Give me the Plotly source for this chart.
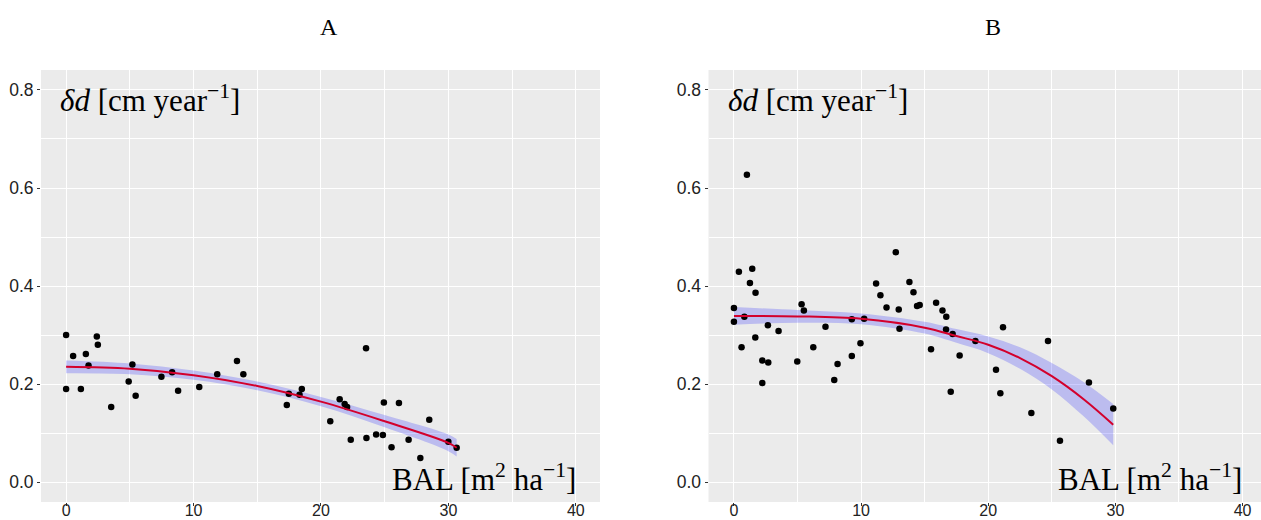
import plotly.graph_objects as go

# ---------------- data ----------------
# Panel A: observations
bal_a = [0, 0, 0.55, 1.16, 1.55, 1.76, 2.41, 2.49, 3.54, 4.91, 5.2, 5.46, 7.48, 8.32, 8.79,
         10.45, 11.86, 13.41, 13.91, 17.32, 17.48, 18.32, 18.5, 20.73, 21.47, 21.86, 22.05,
         22.34, 23.54, 23.57, 24.33, 24.86, 24.94, 25.54, 26.12, 26.88, 27.8, 28.5, 30.0, 30.65]
dd_a = [0.300, 0.190, 0.257, 0.190, 0.261, 0.238, 0.297, 0.280, 0.153, 0.205, 0.240, 0.176,
        0.215, 0.224, 0.186, 0.194, 0.220, 0.247, 0.220, 0.157, 0.180, 0.178, 0.190, 0.124,
        0.169, 0.159, 0.153, 0.086, 0.273, 0.090, 0.097, 0.096, 0.162, 0.071, 0.161, 0.086,
        0.049, 0.127, 0.082, 0.070]
# Panel A: fitted curve and confidence band
fit_x_a = [0, 5, 10, 15, 20, 25, 30, 30.65]
fit_a = [0.235, 0.231, 0.218, 0.196, 0.164, 0.124, 0.080, 0.070]
lo_a = [0.222, 0.220, 0.2085, 0.187, 0.1545, 0.1115, 0.063, 0.052]
hi_a = [0.248, 0.242, 0.2275, 0.205, 0.1735, 0.1365, 0.097, 0.088]

# Panel B: observations
bal_b = [1.02, 0, 0, 0.39, 0.6, 0.82, 1.26, 1.44, 1.70, 1.68, 2.23, 2.23, 2.70, 2.67, 3.51,
         4.98, 5.32, 5.5, 6.24, 7.2, 7.89, 8.15, 9.27, 9.27, 9.95, 10.24, 11.18, 11.52, 12.0,
         12.73, 12.96, 13.02, 13.8, 14.12, 14.4, 14.61, 15.5, 15.9, 16.4, 16.7, 16.68, 17.2,
         17.05, 17.75, 18.99, 20.61, 20.95, 21.16, 23.39, 24.7, 25.64, 27.92, 29.83]
dd_b = [0.627, 0.355, 0.327, 0.429, 0.275, 0.337, 0.406, 0.435, 0.386, 0.295, 0.248, 0.202,
        0.244, 0.320, 0.308, 0.246, 0.363, 0.350, 0.275, 0.317, 0.208, 0.241, 0.257, 0.332,
        0.283, 0.333, 0.405, 0.381, 0.356, 0.469, 0.352, 0.313, 0.408, 0.387, 0.359, 0.361,
        0.271, 0.366, 0.350, 0.337, 0.311, 0.302, 0.184, 0.258, 0.288, 0.229, 0.181, 0.316,
        0.141, 0.288, 0.084, 0.203, 0.150]
# Panel B: fitted curve and confidence band
fit_x_b = [0, 5, 10, 15, 17.5, 20, 22.5, 25, 27.5, 29.83]
fit_b = [0.339, 0.338, 0.333, 0.315, 0.298, 0.280, 0.253, 0.216, 0.169, 0.117]
lo_b = [0.321, 0.325, 0.322, 0.303, 0.284, 0.263, 0.231, 0.189, 0.134, 0.075]
hi_b = [0.357, 0.351, 0.344, 0.327, 0.312, 0.297, 0.275, 0.243, 0.204, 0.159]

x_ticks = [0, 10, 20, 30, 40]
y_ticks = [0.0, 0.2, 0.4, 0.6, 0.8]
titles = ["A", "B"]
y_label = "<i>δd</i> [cm year<sup>−1</sup>]"
x_label = "BAL [m<sup>2</sup> ha<sup>−1</sup>]"

# ---------------- styles ----------------
BAND = "rgba(0,0,255,0.2)"
LINE = "#d3002c"
BG = "#EBEBEB"
SERIF = "Liberation Serif"
SANS = "Liberation Sans"

fig = go.Figure()

panels = [
    ("x", "y", bal_a, dd_a, fit_x_a, fit_a, lo_a, hi_a),
    ("x2", "y2", bal_b, dd_b, fit_x_b, fit_b, lo_b, hi_b),
]
for xa, ya, px, py, fx, fy, lo, hi in panels:
    fig.add_trace(go.Scatter(
        x=fx, y=lo, mode="lines", line=dict(width=0, shape="spline"),
        hoverinfo="skip", showlegend=False, xaxis=xa, yaxis=ya))
    fig.add_trace(go.Scatter(
        x=fx, y=hi, mode="lines", fill="tonexty", fillcolor=BAND,
        line=dict(width=0, shape="spline"),
        hoverinfo="skip", showlegend=False, xaxis=xa, yaxis=ya))
    fig.add_trace(go.Scatter(
        x=px, y=py, mode="markers", marker=dict(color="black", size=6.5),
        showlegend=False, xaxis=xa, yaxis=ya))
    fig.add_trace(go.Scatter(
        x=fx, y=fy, mode="lines", line=dict(color=LINE, width=2, shape="spline"),
        showlegend=False, xaxis=xa, yaxis=ya))

L, R, T, B = 41, 0, 70, 18
W, H = 1261, 520
pw = W - L - R
ph = H - T - B

def px2paper_x(p):
    return (p - L) / pw

def py2paper_y(p):
    return (H - B - p) / ph

common_x = dict(
    showgrid=True, gridcolor="white", gridwidth=1.1, zeroline=False, automargin=False,
    tickvals=x_ticks, ticks="outside", ticklen=3, tickwidth=1, tickcolor="#333333",
    tickfont=dict(family=SANS, size=16, color="#222222"), showline=False,
    ticklabelstandoff=-9,
    minor=dict(dtick=5, tick0=0, showgrid=True, gridcolor="white", gridwidth=0.5, ticks=""),
)
common_y = dict(
    showgrid=True, gridcolor="white", gridwidth=1.1, zeroline=False, automargin=False,
    tickvals=y_ticks, tickformat=".1f", ticks="outside", ticklen=3, tickwidth=1,
    tickcolor="#333333", tickfont=dict(family=SANS, size=17.5, color="#222222"),
    range=[-0.0408, 0.8408], showline=False,
    minor=dict(dtick=0.1, tick0=0, showgrid=True, gridcolor="white", gridwidth=0.5, ticks=""),
)

fig.update_layout(
    width=W, height=H, margin=dict(l=L, r=R, t=T, b=B),
    paper_bgcolor="white", plot_bgcolor=BG,
    xaxis=dict(domain=[0, px2paper_x(600)], range=[-1.97, 41.9], anchor="y", **common_x),
    yaxis=dict(domain=[0, 1], anchor="x", **common_y),
    xaxis2=dict(domain=[px2paper_x(708.5), 1], range=[-2.0, 41.45], anchor="y2", **common_x),
    yaxis2=dict(domain=[0, 1], anchor="x2", **common_y),
    showlegend=False,
)

annotations = []
for title, tx in zip(titles, [329, 993]):
    annotations.append(dict(text=title, xref="paper", yref="paper", x=px2paper_x(tx),
                            y=py2paper_y(27), xanchor="center", yanchor="middle",
                            showarrow=False, font=dict(family=SERIF, size=24, color="black")))
for xr, yr, xl in [("x", "y", 40.2), ("x2", "y2", 40.1)]:
    annotations.append(dict(text=y_label, xref=xr, yref=yr, x=-0.6, y=0.782,
                            xanchor="left", yanchor="middle", showarrow=False,
                            font=dict(family=SERIF, size=31, color="black")))
    annotations.append(dict(text=x_label, xref=xr, yref=yr, x=xl, y=0.01,
                            xanchor="right", yanchor="middle", showarrow=False,
                            font=dict(family=SERIF, size=31, color="black")))
fig.update_layout(annotations=annotations)

fig.write_html("out.html")
